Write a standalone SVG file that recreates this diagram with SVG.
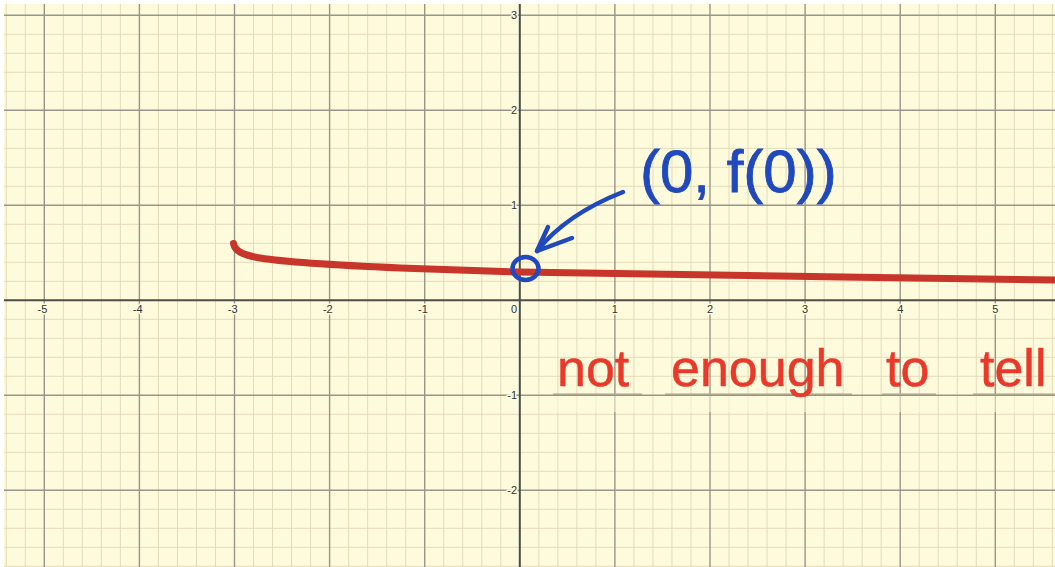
<svg xmlns="http://www.w3.org/2000/svg" width="1055" height="567" viewBox="0 0 1055 567">
<style>
.minor{stroke:#e4dbb8;stroke-width:1;fill:none}
.major{stroke:#98968a;stroke-width:1.4;fill:none}
.axis{stroke:#4d4d4a;stroke-width:2;fill:none}
.lbl{font-family:"Liberation Sans",Arial,sans-serif;font-size:11px;fill:#333;stroke:#fefadc;stroke-width:3;paint-order:stroke;stroke-linejoin:round}
.blue{stroke:#1f49bd;stroke-width:4.5;fill:none;stroke-linecap:round;stroke-linejoin:round}
.hand-blue{font-family:"Liberation Sans",Arial,sans-serif;font-size:60px;fill:#1f49bd;stroke:#1f49bd;stroke-width:0.8}
.hand-red{font-family:"Liberation Sans",Arial,sans-serif;font-size:52px;fill:#e8392b;stroke:#e8392b;stroke-width:0.5}
.uline{stroke:#aaa691;stroke-width:1.5}
</style>
<rect x="0" y="0" width="1055" height="567" fill="#ffffff"/>
<g id="paper">
<rect x="4" y="4" width="1051" height="563" fill="#fefadc"/>
<path class="minor" d="M6.26,4V567M25.28,4V567M63.32,4V567M82.34,4V567M101.36,4V567M120.38,4V567M158.42,4V567M177.44,4V567M196.46,4V567M215.48,4V567M253.52,4V567M272.54,4V567M291.56,4V567M310.58,4V567M348.62,4V567M367.64,4V567M386.66,4V567M405.68,4V567M443.72,4V567M462.74,4V567M481.76,4V567M500.78,4V567M538.82,4V567M557.84,4V567M576.86,4V567M595.88,4V567M633.92,4V567M652.94,4V567M671.96,4V567M690.98,4V567M729.02,4V567M748.04,4V567M767.06,4V567M786.08,4V567M824.12,4V567M843.14,4V567M862.16,4V567M881.18,4V567M919.22,4V567M938.24,4V567M957.26,4V567M976.28,4V567M1014.32,4V567M1033.34,4V567M1052.36,4V567"/>
<path class="minor" d="M4,34.3H1055M4,53.3H1055M4,72.3H1055M4,91.3H1055M4,129.3H1055M4,148.3H1055M4,167.3H1055M4,186.3H1055M4,224.3H1055M4,243.3H1055M4,262.3H1055M4,281.3H1055M4,319.3H1055M4,338.3H1055M4,357.3H1055M4,376.3H1055M4,414.3H1055M4,433.3H1055M4,452.3H1055M4,471.3H1055M4,509.3H1055M4,528.3H1055M4,547.3H1055M4,566.3H1055"/>
<path class="major" d="M44.3,4V567M139.4,4V567M234.5,4V567M329.6,4V567M424.7,4V567M614.9,4V567M710,4V567M805.1,4V567M900.2,4V567M995.3,4V567"/>
<path class="major" d="M4,15.3H1055M4,110.3H1055M4,205.3H1055M4,395.3H1055M4,490.3H1055"/>
<path class="axis" d="M519.8,4V567M4,300.3H1055"/>
</g>
<g id="labels">
<text class="lbl" x="47.4" y="313" text-anchor="end">-5</text>
<text class="lbl" x="142.5" y="313" text-anchor="end">-4</text>
<text class="lbl" x="237.6" y="313" text-anchor="end">-3</text>
<text class="lbl" x="332.7" y="313" text-anchor="end">-2</text>
<text class="lbl" x="427.8" y="313" text-anchor="end">-1</text>
<text class="lbl" x="517" y="313" text-anchor="end">0</text>
<text class="lbl" x="614.9" y="313" text-anchor="middle">1</text>
<text class="lbl" x="710" y="313" text-anchor="middle">2</text>
<text class="lbl" x="805.1" y="313" text-anchor="middle">3</text>
<text class="lbl" x="900.2" y="313" text-anchor="middle">4</text>
<text class="lbl" x="995.3" y="313" text-anchor="middle">5</text>
<text class="lbl" x="517" y="19.3" text-anchor="end">3</text>
<text class="lbl" x="517" y="114.3" text-anchor="end">2</text>
<text class="lbl" x="517" y="209.3" text-anchor="end">1</text>
<text class="lbl" x="517" y="399.3" text-anchor="end">-1</text>
<text class="lbl" x="517" y="494.3" text-anchor="end">-2</text>
</g>
<g id="curve">
<path d="M233.5,243.5 C235,251 242,255 260,258 C285,262 320,264.5 400,268 C450,270 490,271.3 519,272 C600,273.6 700,275 860,277.2 C950,278.3 1010,279.2 1058,280" fill="none" stroke="#c7352b" stroke-width="7" stroke-linecap="round"/>
</g>
<g id="annotation-point">
<ellipse class="blue" cx="525.5" cy="268.5" rx="13" ry="11.5"/>
<text class="hand-blue" x="640" y="192">(0, f(0))</text>
</g>
<g id="connectors">
<path class="blue" d="M623,192 C595,203 560,222 537,251"/>
<path class="blue" d="M548,227 L537,251 L572,238"/>
</g>
<g id="annotation-text">
<g fill="#fefadc" fill-opacity="0.55">
<rect x="553" y="396" width="90" height="16"/>
<rect x="665" y="396" width="188" height="16"/>
<rect x="881" y="396" width="56" height="16"/>
<rect x="973" y="396" width="82" height="16"/>
</g>
<path class="uline" d="M553,394.3H642M665,394.3H852M882,394.3H936M973,394.3H1055"/>
<text class="hand-red" y="386"><tspan x="557">not</tspan><tspan x="671">enough</tspan><tspan x="886">to</tspan><tspan x="980">tell</tspan></text>
</g>
</svg>
